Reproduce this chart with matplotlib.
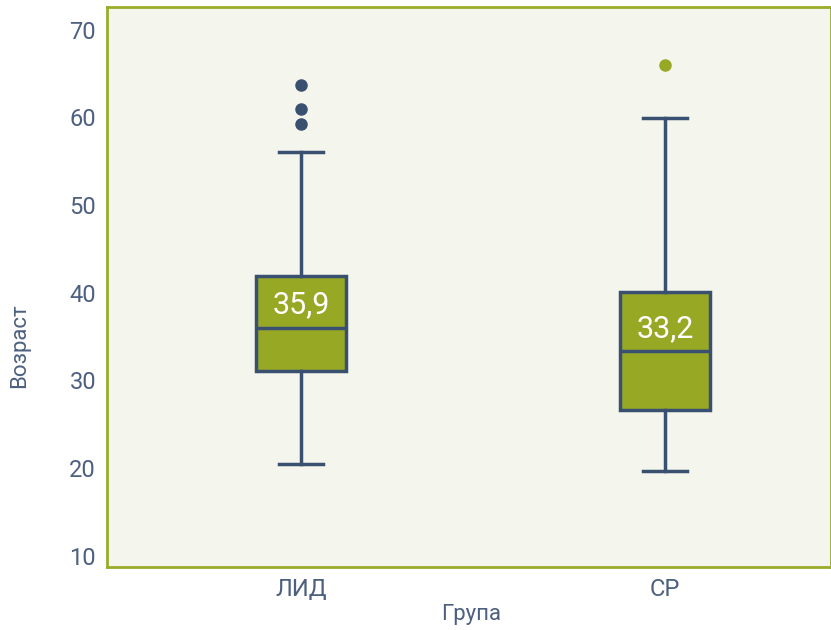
import matplotlib
matplotlib.use("Agg")
from matplotlib import pyplot as plt

plt.rcParams['font.family'] = ['Roboto', 'DejaVu Sans']

groups = ['ЛИД', 'СР']
q1 = [31.1, 26.6]
median = [36.0, 33.3]
q3 = [41.9, 40.1]
whislo = [20.5, 19.7]
whishi = [56.1, 59.9]
outliers = [[59.3, 61.0, 63.7], [66.0]]
median_labels = ['35,9', '33,2']
flier_colors = ['#3a5070', '#97a825']

navy = '#3a5070'
green = '#97a825'
text_col = '#4d6080'

stats = []
for i in range(len(groups)):
    stats.append(dict(label=groups[i], q1=q1[i], med=median[i], q3=q3[i],
                      whislo=whislo[i], whishi=whishi[i], fliers=outliers[i]))

fig = plt.figure(figsize=(8.31, 6.3), dpi=100)
ax = fig.add_axes([0.129, 0.1, 0.871, 0.889])
ax.set_facecolor('#f4f5ec')

pos = [1, 2]
ax.bxp(stats, positions=pos, widths=0.247, patch_artist=True, capwidths=0.12,
       boxprops=dict(facecolor=green, edgecolor=navy, linewidth=2.5),
       medianprops=dict(color=navy, linewidth=2.5),
       whiskerprops=dict(color=navy, linewidth=2.5),
       capprops=dict(color=navy, linewidth=2.5),
       flierprops=dict(marker='o', markersize=0))

for i in range(len(groups)):
    ax.plot([pos[i]] * len(outliers[i]), outliers[i], 'o', color=flier_colors[i],
            markersize=8, zorder=3)
    # value label sits a bit above the median line
    ax.text(pos[i], median[i] + 2.65, median_labels[i], color='white',
            fontsize=22, ha='center', va='center', zorder=4)

ax.set_xlim(0.467, 2.456)
ax.set_ylim(8.7, 72.6)
ax.set_yticks([10, 20, 30, 40, 50, 60, 70])
ax.set_xticks(pos)
ax.set_xticklabels(groups)
ax.tick_params(length=0, labelsize=17, labelcolor=text_col, pad=8)
ax.set_xlabel('Група', fontsize=16, color=text_col)
ax.set_ylabel('Возраст', fontsize=16, color=text_col)
ax.xaxis.set_label_coords(0.503, -0.066)
ax.yaxis.set_label_coords(-0.107, 0.396)

for side in ['left', 'top', 'bottom', 'right']:
    ax.spines[side].set_color('#9aac2a')
    ax.spines[side].set_linewidth(2)

fig.savefig('out.png', dpi=100)
